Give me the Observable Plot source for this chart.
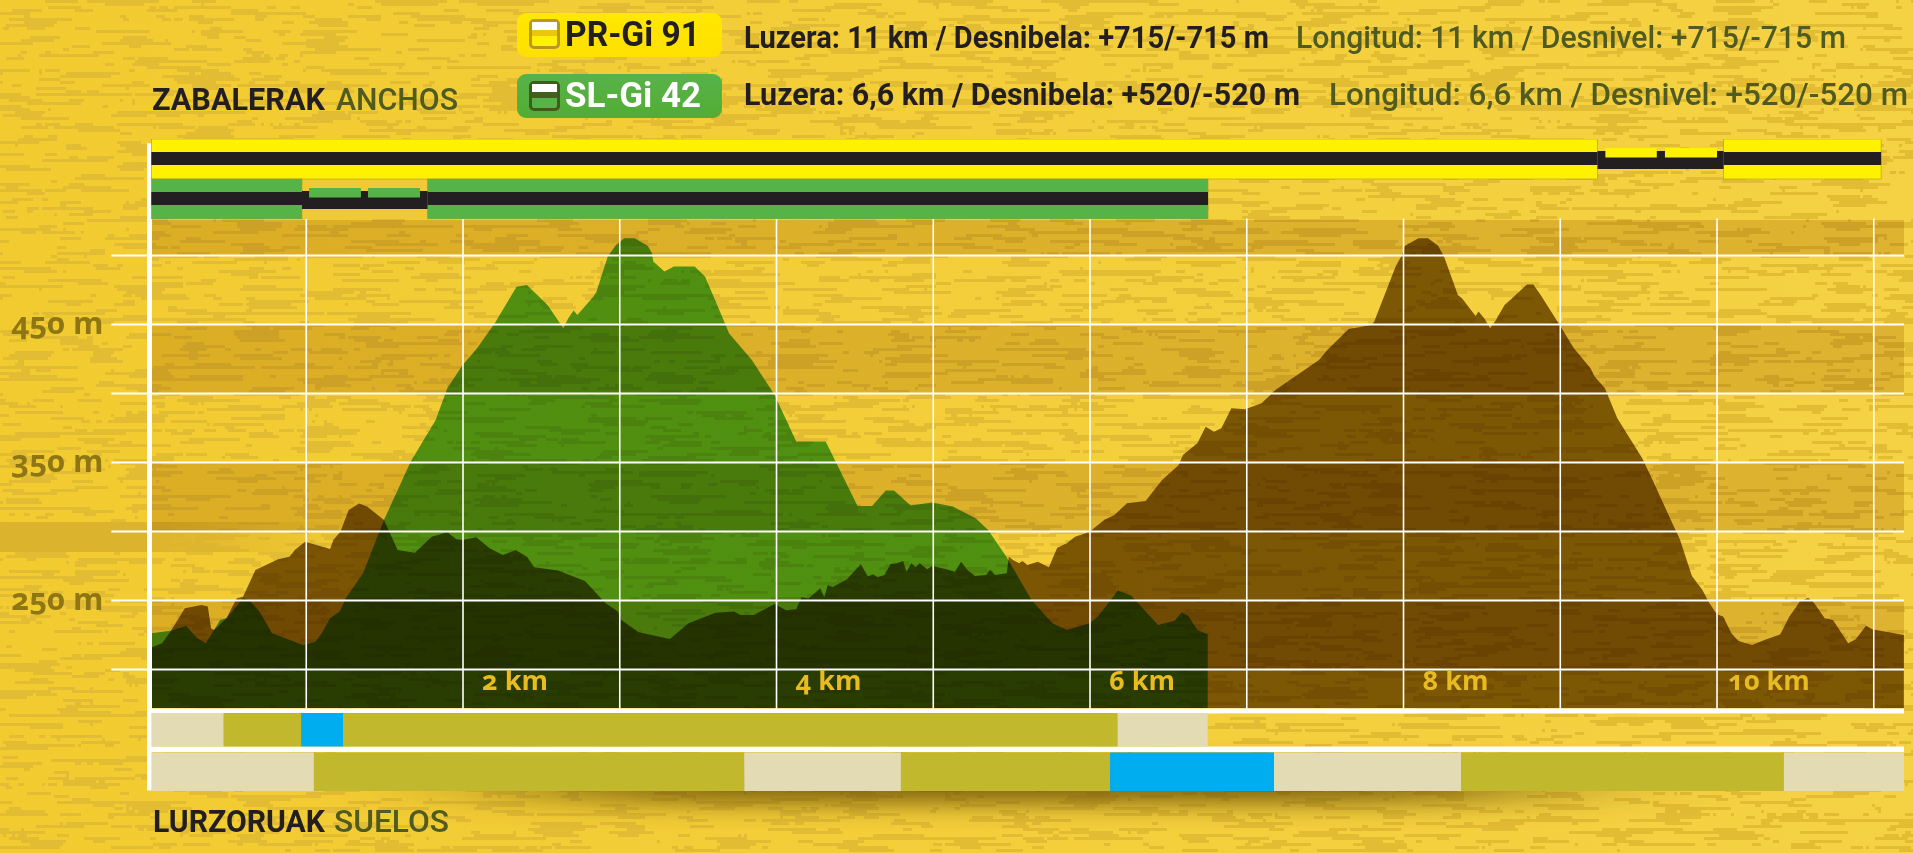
<!DOCTYPE html>
<html lang="eu">
<head>
<meta charset="utf-8">
<title>PR-Gi 91 / SL-Gi 42</title>
<script src="https://cdn.jsdelivr.net/npm/d3@7"></script>
<script src="https://cdn.jsdelivr.net/npm/@observablehq/plot@0.6"></script>
<style>
html,body{margin:0;padding:0;width:1913px;height:853px;overflow:hidden;background:#f3cd36}
#stage{position:relative;width:1913px;height:853px;font-family:Roboto,sans-serif}
#stage>*{position:absolute}
.t{line-height:1;white-space:nowrap;transform-origin:0 0;font-size:31px}
.b{font-weight:700;color:#231f20}
.r{font-weight:500;color:#4f5b20}
.badge{border-radius:9px}
.icon{border-radius:5px;box-sizing:border-box;border-style:solid;border-width:3px}
.icon i{display:block}
svg text{font-feature-settings:"onum" 1;font-variant-numeric:oldstyle-nums}
</style>
</head>
<body>
<div id="stage"></div>
<script>
// Elevation profile of PR-Gi 91 (distance in km, elevation in m)
const prKm = [0.015,0.084,0.137,0.229,0.335,0.375,0.396,0.415,0.494,0.560,0.600,0.679,0.824,0.896,0.930,0.996,1.155,1.176,1.221,1.274,1.340,1.393,1.499,1.586,1.697,1.803,1.903,1.961,2.001,2.088,2.173,2.257,2.339,2.411,2.458,2.609,2.781,2.913,2.992,3.013,3.124,3.323,3.442,3.614,3.733,3.773,3.859,3.991,4.065,4.129,4.163,4.208,4.282,4.308,4.330,4.361,4.454,4.541,4.586,4.620,4.647,4.692,4.731,4.771,4.811,4.832,4.864,4.890,4.917,4.964,4.996,5.088,5.141,5.181,5.221,5.268,5.340,5.366,5.398,5.472,5.485,5.512,5.551,5.572,5.604,5.670,5.741,5.794,5.855,5.908,6.001,6.093,6.159,6.239,6.358,6.463,6.569,6.596,6.688,6.741,6.794,6.841,6.905,6.992,7.098,7.186,7.464,7.517,7.654,7.800,7.816,7.953,7.993,8.011,8.098,8.159,8.223,8.262,8.350,8.376,8.463,8.482,8.521,8.556,8.593,8.648,8.707,8.791,8.831,8.878,8.989,9.090,9.196,9.222,9.288,9.367,9.526,9.592,9.738,9.764,9.843,9.910,9.949,10.002,10.042,10.095,10.140,10.227,10.306,10.407,10.465,10.531,10.584,10.624,10.690,10.743,10.840,10.888,10.954,10.994,11.195];
const prM = [215.5,218.6,227.1,244.0,246.4,245.2,229.5,228.3,236.7,251.2,252.4,271.8,279.5,281.4,286.2,292.3,287.0,293.5,299.5,315.2,320.0,317.6,308.0,286.2,284.3,295.9,299.1,294.0,293.5,295.4,287.5,282.6,286.2,281.4,273.7,271.3,263.8,247.6,241.6,235.5,226.6,221.8,233.1,240.8,241.6,239.2,239.2,247.1,242.5,243.3,252.0,251.0,258.5,252.0,260.9,259.2,265.2,275.9,267.0,268.6,266.5,268.1,276.1,276.6,278.3,270.5,276.6,273.7,276.6,272.2,274.7,272.2,270.3,277.8,271.8,267.4,268.1,271.8,268.1,269.3,281.4,279.0,276.6,278.3,275.4,277.8,273.7,287.9,291.1,295.9,299.5,308.0,311.6,320.1,321.8,337.0,347.9,355.1,363.5,375.6,372.0,374.4,388.9,388.2,392.5,402.2,423.9,431.2,446.4,449.3,451.7,491.6,500.0,506.5,512.1,512.1,506.8,498.8,471.0,468.6,455.8,459.0,453.6,446.9,452.9,463.8,469.8,478.7,478.7,471.0,451.0,432.4,417.9,411.9,403.4,381.7,352.7,337.0,300.7,294.7,267.4,257.3,248.8,239.6,238.0,225.9,220.3,217.4,221.0,225.1,238.0,248.8,251.7,247.6,236.7,235.5,218.6,221.5,231.4,228.8,224.7];

// Elevation profile of SL-Gi 42
const slKm = [0.015,0.137,0.237,0.309,0.362,0.415,0.454,0.494,0.600,0.639,0.705,0.785,0.983,1.062,1.102,1.155,1.216,1.261,1.366,1.499,1.670,1.829,1.903,2.001,2.093,2.212,2.345,2.411,2.543,2.643,2.675,2.709,2.733,2.834,2.855,2.926,2.979,3.032,3.098,3.183,3.209,3.217,3.288,3.349,3.481,3.548,3.674,3.700,3.846,3.991,4.129,4.317,4.520,4.613,4.700,4.753,4.859,4.996,5.128,5.274,5.353,5.472,5.630,5.763,5.855,6.001,6.054,6.181,6.265,6.437,6.543,6.588,6.630,6.688,6.754];
const slM = [225.9,227.8,231.2,222.2,218.6,228.3,235.5,236.7,251.2,250.0,241.6,225.9,217.4,219.8,225.9,236.7,241.6,252.4,269.3,308.0,350.3,380.5,403.4,420.3,432.4,451.7,477.0,478.3,463.8,446.9,454.1,459.7,456.5,469.8,473.4,498.8,507.2,512.1,512.1,506.5,501.2,495.2,488.0,491.6,491.6,484.3,450.5,443.3,423.9,398.6,364.8,364.8,318.2,318.2,329.3,329.3,318.4,320.6,317.7,309.2,300.7,280.9,250.0,233.1,228.3,233.1,238.0,256.8,253.2,231.9,235.0,241.1,238.4,228.3,225.1];

// Axis values
const elevationGrid = [200,250,300,350,400,450,500];
const elevationLabels = [250,350,450];
const kmGrid = [1,2,3,4,5,6,7,8,9,10,11];
const kmLabels = [2,4,6,8,10];
const shadedLow = [200,300,400,500];
const shadedHigh = [250,350,450,525.36];
const domainKm = [0,11.196];
const domainM = [171.74,525.36];

// Ground type strips: LURZORUAK / SUELOS
const groundKinds = ["natural","soil","paved"];
const groundColors = ["#e3dbb3","#c2b82e","#00aeef"];
const slGroundFrom = [0.015,0.476,0.970,1.238,6.180];
const slGroundTo   = [0.476,0.970,1.238,6.180,6.754];
const slGroundKind = ["natural","soil","paved","soil","natural"];
const prGroundFrom = [0.015,1.052,3.797,4.797,6.131,7.177,8.370,10.430];
const prGroundTo   = [1.052,3.797,4.797,6.131,7.177,8.370,10.430,11.196];
const prGroundKind = ["natural","soil","natural","soil","paved","natural","soil","natural"];

// Path width strips: ZABALERAK / ANCHOS
const widthRows = ["PR-Gi 91","SL-Gi 42"];
const routeColors = ["#fff200","#56b348"];
const prWideFrom = [0.015,10.045], prWideTo = [9.241,11.05];
const prNarrowFrom = [9.241], prNarrowTo = [10.045];
const prDashFrom = [9.291,9.671], prDashTo = [9.619,10.003];
const slWideFrom = [0.015,1.777], slWideTo = [0.976,6.756];
const slNarrowFrom = [0.976], slNarrowTo = [1.777];
const slDashFrom = [1.021,1.397], slDashTo = [1.352,1.729];

const table = (a, b) => Array.from(a, (v, i) => ({x: v, y: b[i]}));
const spans = (row, from, to, extra) => Array.from(from, (v, i) => ({row, x1: v, x2: to[i], kind: extra ? extra[i] : row}));

function texture(index, scales, values, dim) {
  const g = d3.create("svg:g");
  const defs = g.append("defs");
  const f = defs.append("filter").attr("id", "grain").attr("filterUnits", "userSpaceOnUse")
    .attr("x", 0).attr("y", 0).attr("width", dim.width).attr("height", dim.height)
    .attr("color-interpolation-filters", "sRGB");
  f.append("feTurbulence").attr("type", "fractalNoise").attr("baseFrequency", "0.017 0.17")
    .attr("numOctaves", 4).attr("seed", 7).attr("result", "n");
  f.append("feFlood").attr("x", 1).attr("y", 1).attr("width", 1).attr("height", 1).attr("flood-color", "#000");
  f.append("feComposite").attr("width", 3).attr("height", 3);
  f.append("feTile").attr("result", "tile");
  f.append("feComposite").attr("in", "n").attr("in2", "tile").attr("operator", "in");
  f.append("feMorphology").attr("operator", "dilate").attr("radius", 1);
  f.append("feColorMatrix").attr("type", "matrix")
    .attr("values", "0 0 0 0 0.886  0 0 0 0 0.737  0 0 0 0 0.2  1.4 0.6 0 0 -0.59");
  const ct = f.append("feComponentTransfer");
  ct.append("feFuncA").attr("type", "discrete").attr("tableValues", "0 0 0 0 0 1 1 1 1 1");
  const s = defs.append("filter").attr("id", "soft").attr("filterUnits", "userSpaceOnUse")
    .attr("x", -300).attr("y", 600).attr("width", 2500).attr("height", 300);
  s.append("feGaussianBlur").attr("stdDeviation", "110 14");
  const lg = defs.append("linearGradient").attr("id", "fade");
  lg.append("stop").attr("offset", 0).attr("stop-color", "#dcb32c").attr("stop-opacity", 1);
  lg.append("stop").attr("offset", 0.42).attr("stop-color", "#dcb32c").attr("stop-opacity", 1);
  lg.append("stop").attr("offset", 1).attr("stop-color", "#dcb32c").attr("stop-opacity", 0);
  const base = defs.append("linearGradient").attr("id", "base");
  base.append("stop").attr("offset", 0).attr("stop-color", "#f2cb30");
  base.append("stop").attr("offset", 1).attr("stop-color", "#f5d244");
  g.append("rect").attr("width", dim.width).attr("height", dim.height).attr("fill", "url(#base)");
  g.append("rect").attr("width", dim.width).attr("height", dim.height).attr("filter", "url(#grain)");
  g.append("rect").attr("x", 0).attr("y", 522).attr("width", 350).attr("height", 30).attr("fill", "url(#fade)");
  g.append("rect").attr("x", 540).attr("y", 770).attr("width", 980).attr("height", 30)
    .attr("fill", "#5d4400").attr("opacity", 0.95).attr("filter", "url(#soft)");
  return g.node();
}

const textFont = {fontFamily: "Open Sans, sans-serif", fontWeight: 700};

const main = Plot.plot({
  width: 1913, height: 853,
  marginLeft: 149, marginRight: 9, marginTop: 220, marginBottom: 145,
  style: {background: "transparent", overflow: "visible"},
  x: {domain: domainKm, axis: null},
  y: {domain: domainM, axis: null},
  marks: [
    texture,
    Plot.rect(shadedLow.map((d, i) => ({lo: d, hi: shadedHigh[i]})), {
      x1: domainKm[0] + 0.015, x2: domainKm[1], y1: "lo", y2: "hi",
      fill: "#e7dab6", mixBlendMode: "multiply"
    }),
    Plot.areaY(table(prKm, prM), {x: "x", y1: domainM[0], y2: "y", fill: "#826a0d", mixBlendMode: "multiply"}),
    Plot.areaY(table(slKm, slM), {x: "x", y1: domainM[0], y2: "y", fill: "#54b246", mixBlendMode: "multiply"}),
    Plot.ruleX(kmGrid, {y1: domainM[0] - 3.5, y2: domainM[1] + 1, stroke: "#fff", strokeWidth: 1.6}),
    Plot.ruleY(elevationGrid, {x1: -0.24, x2: domainKm[1], stroke: "#fff", strokeWidth: 1.8}),
    Plot.ruleY([domainM[0] - 1.8], {x1: 0, x2: domainKm[1], stroke: "#fff", strokeWidth: 5}),
    Plot.ruleX([0], {y1: 112, y2: 581, stroke: "#fff", strokeWidth: 5}),
    Plot.axisY(elevationLabels, {
      anchor: "left", label: null, tickSize: 0, tickPadding: 46,
      tickFormat: d => d + " m", fontSize: 31, fill: "#8f7614", ...textFont
    }),
    Plot.axisX(kmLabels, {
      anchor: "bottom", label: null, tickSize: 0, tickPadding: -38, dx: 52,
      tickFormat: d => d + " km", fontSize: 27, fill: "#e8bb20", ...textFont
    })
  ]
});

const rowBand = {axis: null, type: "band", padding: 0};
const stripX = {domain: domainKm, axis: null};

const widths = Plot.plot({
  width: 1913, height: 80,
  marginLeft: 149, marginRight: 9, marginTop: 0, marginBottom: 0,
  style: {background: "transparent"},
  x: stripX,
  y: {...rowBand, domain: widthRows},
  color: {domain: widthRows, range: routeColors},
  marks: [
    Plot.barX(spans("SL-Gi 42", slNarrowFrom, slNarrowTo), {x1: "x1", x2: "x2", y: "row", fill: "#f0ca36"}),
    Plot.barX(spans("PR-Gi 91", prWideFrom, prWideTo).concat(spans("SL-Gi 42", slWideFrom, slWideTo)),
      {x1: "x1", x2: "x2", y: "row", fill: "kind", stroke: "#a89a20", strokeWidth: 0.6}),
    Plot.barX(spans("PR-Gi 91", prWideFrom, prWideTo).concat(spans("SL-Gi 42", slWideFrom, slWideTo)),
      {x1: "x1", x2: "x2", y: "row", fill: "#231f20", insetTop: 13, insetBottom: 14}),
    Plot.barX(spans("PR-Gi 91", prNarrowFrom, prNarrowTo).concat(spans("SL-Gi 42", slNarrowFrom, slNarrowTo)),
      {x1: "x1", x2: "x2", y: "row", fill: "#231f20", insetTop: 12, insetBottom: 10}),
    Plot.barX(spans("PR-Gi 91", prDashFrom, prDashTo).concat(spans("SL-Gi 42", slDashFrom, slDashTo)),
      {x1: "x1", x2: "x2", y: "row", fill: "kind", insetTop: 9, insetBottom: 21.5})
  ]
});

const groundRows = ["SL-Gi 42","PR-Gi 91"];
const ground = Plot.plot({
  width: 1913, height: 78,
  marginLeft: 149, marginRight: 9, marginTop: 0, marginBottom: 0,
  style: {background: "transparent"},
  x: stripX,
  y: {...rowBand, domain: groundRows},
  color: {domain: groundKinds, range: groundColors},
  marks: [
    Plot.barX(spans("SL-Gi 42", [domainKm[0] + 0.015], [domainKm[1]]), {x1: "x1", x2: "x2", y: "row", fill: "#fff", insetTop: 33.5}),
    Plot.barX(spans("SL-Gi 42", slGroundFrom, slGroundTo, slGroundKind), {x1: "x1", x2: "x2", y: "row", fill: "kind", insetBottom: 5.5}),
    Plot.barX(spans("PR-Gi 91", prGroundFrom, prGroundTo, prGroundKind), {x1: "x1", x2: "x2", y: "row", fill: "kind", insetTop: 0.5})
  ]
});

const stage = document.getElementById("stage");
main.style.left = "0"; main.style.top = "0";
widths.style.left = "0"; widths.style.top = "139px";
ground.style.left = "0"; ground.style.top = "713px";
stage.append(main, widths, ground);

// Text and badges above and below the chart
function box(x, y, w, h, css, cls) {
  const d = document.createElement("div");
  d.className = cls || "";
  d.style.cssText = `left:${x}px;top:${y}px;width:${w}px;height:${h}px;${css}`;
  stage.append(d); return d;
}
function text(str, x, top, width, cls, size, color) {
  const s = document.createElement("span");
  s.className = "t " + cls; s.textContent = str;
  s.style.left = x + "px"; s.style.top = top + "px";
  if (size) s.style.fontSize = size + "px";
  if (color) s.style.color = color;
  stage.append(s);
  s.style.transform = `scaleX(${width / s.getBoundingClientRect().width})`;
}
box(517, 13, 205, 44, "background:linear-gradient(#fee800,#ffe000)", "badge");
box(517, 74, 205, 44, "background:linear-gradient(#58b24a,#52ad33)", "badge");
const ic1 = box(529, 19, 31, 30, "border-color:#b9991c;background:#fff200", "icon");
ic1.innerHTML = '<i style="height:8px;background:#fff"></i><i style="height:6px;background:#ecc60e"></i>';
const ic2 = box(529, 81, 31, 30, "border-color:#3f5c1c;background:#56b348", "icon");
ic2.innerHTML = '<i style="height:8px;background:#fff"></i><i style="height:6px;background:#40601c"></i>';
text("PR-Gi 91", 565, 17, 135, "b", 35);
text("SL-Gi 42", 565, 78, 136, "b", 35, "#fff");
text("Luzera: 11 km / Desnibela: +715/-715 m", 744, 22, 525, "b");
text("Longitud: 11 km / Desnivel: +715/-715 m", 1296, 22, 550, "r");
text("Luzera: 6,6 km / Desnibela: +520/-520 m", 744, 79, 556, "b");
text("Longitud: 6,6 km / Desnivel: +520/-520 m", 1328.5, 79, 579, "r");
text("ZABALERAK", 152, 84, 173, "b");
text("ANCHOS", 336, 84, 122, "r");
text("LURZORUAK", 153, 806, 172, "b");
text("SUELOS", 334, 806, 115, "r");
</script>
</body>
</html>
